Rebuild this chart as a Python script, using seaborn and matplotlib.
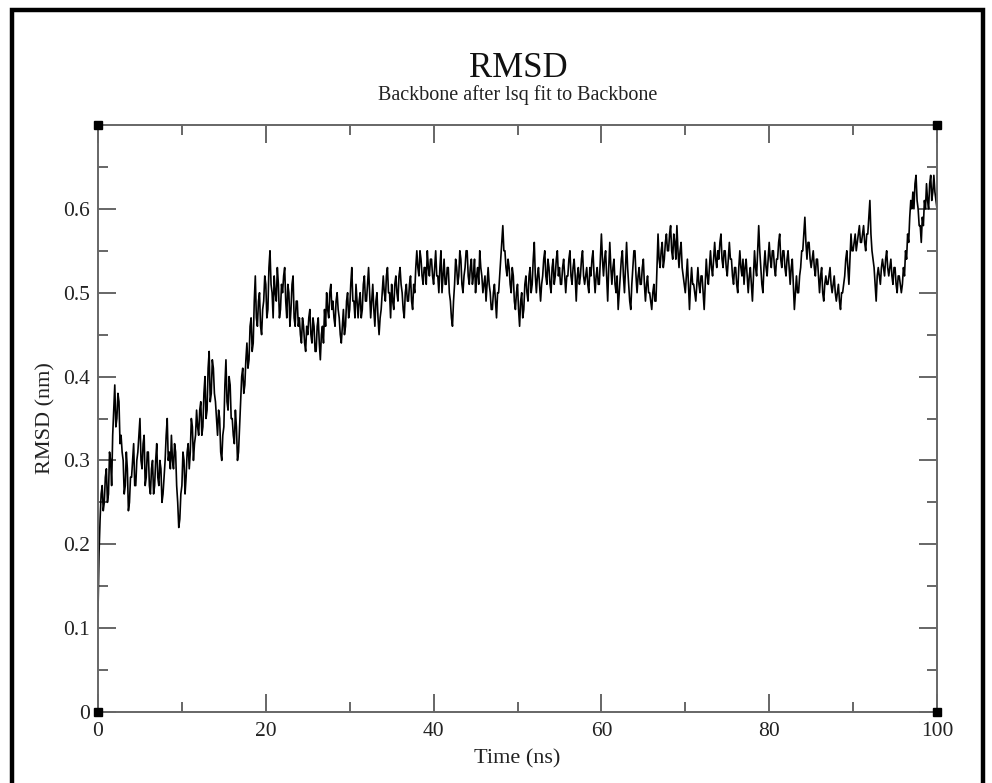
import numpy as np
import pandas as pd
import matplotlib
matplotlib.use("Agg")
import matplotlib.pyplot as plt
from matplotlib.patches import Rectangle
import seaborn as sns

# ---- data (8 samples per ns) ----
title = "RMSD"
subtitle = "Backbone after lsq fit to Backbone"
x_label = "Time (ns)"
y_label = "RMSD (nm)"
x_ticks = [0, 20, 40, 60, 80, 100]
x_tick_labels = ["0", "20", "40", "60", "80", "100"]
y_ticks = [0, 0.1, 0.2, 0.3, 0.4, 0.5, 0.6]
y_tick_labels = ["0", "0.1", "0.2", "0.3", "0.4", "0.5", "0.6"]
time_step_ns = 0.125

rmsd_nm = [
    0.12, 0.19, 0.23, 0.26, 0.27, 0.24, 0.25, 0.28,   # 0
    0.29, 0.25, 0.26, 0.31, 0.30, 0.27, 0.33, 0.36,   # 1
    0.39, 0.34, 0.35, 0.38, 0.37, 0.32, 0.33, 0.31,   # 2
    0.30, 0.26, 0.27, 0.31, 0.29, 0.24, 0.25, 0.28,   # 3
    0.28, 0.30, 0.32, 0.27, 0.27, 0.30, 0.31, 0.33,   # 4
    0.35, 0.30, 0.29, 0.32, 0.33, 0.27, 0.28, 0.31,   # 5
    0.31, 0.27, 0.26, 0.29, 0.30, 0.26, 0.27, 0.30,   # 6
    0.32, 0.28, 0.27, 0.30, 0.29, 0.25, 0.26, 0.28,   # 7
    0.30, 0.33, 0.35, 0.30, 0.31, 0.29, 0.33, 0.30,   # 8
    0.29, 0.32, 0.31, 0.27, 0.25, 0.22, 0.23, 0.26,   # 9
    0.27, 0.31, 0.30, 0.26, 0.28, 0.31, 0.32, 0.29,   # 10
    0.31, 0.35, 0.34, 0.30, 0.32, 0.33, 0.36, 0.34,   # 11
    0.33, 0.36, 0.37, 0.33, 0.34, 0.38, 0.40, 0.35,   # 12
    0.36, 0.41, 0.43, 0.37, 0.38, 0.42, 0.41, 0.38,   # 13
    0.37, 0.35, 0.33, 0.36, 0.35, 0.31, 0.30, 0.33,   # 14
    0.34, 0.39, 0.42, 0.37, 0.36, 0.40, 0.39, 0.35,   # 15
    0.35, 0.33, 0.32, 0.36, 0.34, 0.30, 0.31, 0.34,   # 16
    0.37, 0.40, 0.41, 0.38, 0.39, 0.42, 0.44, 0.41,   # 17
    0.42, 0.46, 0.47, 0.43, 0.44, 0.49, 0.52, 0.47,   # 18
    0.46, 0.49, 0.50, 0.46, 0.45, 0.48, 0.49, 0.52,   # 19
    0.51, 0.47, 0.48, 0.53, 0.55, 0.51, 0.50, 0.47,   # 20
    0.52, 0.50, 0.49, 0.53, 0.51, 0.47, 0.48, 0.51,   # 21
    0.50, 0.52, 0.53, 0.49, 0.47, 0.51, 0.50, 0.46,   # 22
    0.48, 0.51, 0.52, 0.47, 0.46, 0.49, 0.49, 0.46,   # 23
    0.47, 0.45, 0.44, 0.47, 0.46, 0.44, 0.43, 0.46,   # 24
    0.45, 0.47, 0.48, 0.45, 0.44, 0.47, 0.46, 0.43,   # 25
    0.43, 0.46, 0.47, 0.44, 0.42, 0.45, 0.46, 0.44,   # 26
    0.48, 0.46, 0.50, 0.48, 0.47, 0.50, 0.51, 0.48,   # 27
    0.49, 0.47, 0.46, 0.49, 0.50, 0.48, 0.47, 0.45,   # 28
    0.44, 0.46, 0.48, 0.45, 0.46, 0.49, 0.50, 0.47,   # 29
    0.48, 0.51, 0.53, 0.49, 0.49, 0.47, 0.51, 0.49,   # 30
    0.47, 0.49, 0.50, 0.47, 0.48, 0.51, 0.52, 0.49,   # 31
    0.49, 0.51, 0.53, 0.50, 0.47, 0.49, 0.51, 0.48,   # 32
    0.46, 0.49, 0.50, 0.47, 0.45, 0.47, 0.48, 0.50,   # 33
    0.52, 0.50, 0.49, 0.52, 0.53, 0.50, 0.50, 0.47,   # 34
    0.51, 0.49, 0.48, 0.51, 0.52, 0.50, 0.49, 0.52,   # 35
    0.53, 0.51, 0.50, 0.48, 0.47, 0.50, 0.51, 0.49,   # 36
    0.49, 0.51, 0.52, 0.49, 0.48, 0.51, 0.50, 0.53,   # 37
    0.55, 0.53, 0.52, 0.55, 0.54, 0.52, 0.51, 0.53,   # 38
    0.53, 0.51, 0.55, 0.53, 0.52, 0.54, 0.54, 0.52,   # 39
    0.51, 0.53, 0.55, 0.52, 0.52, 0.50, 0.53, 0.55,   # 40
    0.50, 0.52, 0.54, 0.51, 0.51, 0.53, 0.53, 0.50,   # 41
    0.49, 0.47, 0.46, 0.49, 0.51, 0.54, 0.53, 0.51,   # 42
    0.52, 0.55, 0.54, 0.51, 0.50, 0.52, 0.53, 0.55,   # 43
    0.55, 0.52, 0.51, 0.53, 0.54, 0.51, 0.52, 0.54,   # 44
    0.50, 0.52, 0.53, 0.51, 0.55, 0.53, 0.52, 0.50,   # 45
    0.51, 0.52, 0.49, 0.51, 0.53, 0.51, 0.50, 0.48,   # 46
    0.48, 0.50, 0.51, 0.49, 0.47, 0.50, 0.50, 0.52,   # 47
    0.54, 0.56, 0.58, 0.55, 0.55, 0.53, 0.52, 0.54,   # 48
    0.53, 0.51, 0.50, 0.53, 0.52, 0.49, 0.48, 0.50,   # 49
    0.51, 0.48, 0.46, 0.49, 0.50, 0.47, 0.48, 0.51,   # 50
    0.52, 0.50, 0.49, 0.52, 0.53, 0.50, 0.51, 0.54,   # 51
    0.56, 0.52, 0.50, 0.52, 0.53, 0.51, 0.49, 0.51,   # 52
    0.52, 0.54, 0.55, 0.52, 0.51, 0.54, 0.53, 0.51,   # 53
    0.50, 0.53, 0.54, 0.51, 0.52, 0.54, 0.55, 0.52,   # 54
    0.53, 0.51, 0.51, 0.53, 0.54, 0.52, 0.50, 0.52,   # 55
    0.52, 0.54, 0.55, 0.52, 0.51, 0.53, 0.54, 0.52,   # 56
    0.49, 0.52, 0.53, 0.51, 0.52, 0.54, 0.55, 0.52,   # 57
    0.51, 0.52, 0.53, 0.51, 0.50, 0.53, 0.52, 0.54,   # 58
    0.55, 0.52, 0.50, 0.52, 0.53, 0.51, 0.51, 0.54,   # 59
    0.57, 0.54, 0.52, 0.54, 0.55, 0.52, 0.49, 0.53,   # 60
    0.56, 0.53, 0.51, 0.53, 0.54, 0.51, 0.50, 0.52,   # 61
    0.48, 0.50, 0.52, 0.54, 0.55, 0.52, 0.50, 0.53,   # 62
    0.56, 0.53, 0.51, 0.49, 0.48, 0.51, 0.53, 0.55,   # 63
    0.55, 0.52, 0.50, 0.52, 0.53, 0.51, 0.51, 0.53,   # 64
    0.54, 0.51, 0.49, 0.51, 0.52, 0.50, 0.50, 0.49,   # 65
    0.48, 0.50, 0.51, 0.49, 0.49, 0.53, 0.57, 0.54,   # 66
    0.53, 0.55, 0.56, 0.53, 0.54, 0.56, 0.57, 0.55,   # 67
    0.55, 0.57, 0.58, 0.55, 0.54, 0.57, 0.56, 0.54,   # 68
    0.58, 0.55, 0.53, 0.55, 0.56, 0.53, 0.52, 0.51,   # 69
    0.50, 0.52, 0.54, 0.51, 0.48, 0.51, 0.53, 0.51,   # 70
    0.51, 0.50, 0.49, 0.51, 0.53, 0.51, 0.50, 0.52,   # 71
    0.52, 0.50, 0.48, 0.51, 0.54, 0.52, 0.51, 0.53,   # 72
    0.55, 0.53, 0.52, 0.54, 0.56, 0.54, 0.53, 0.55,   # 73
    0.54, 0.56, 0.57, 0.54, 0.53, 0.55, 0.55, 0.53,   # 74
    0.52, 0.54, 0.56, 0.54, 0.54, 0.52, 0.51, 0.53,   # 75
    0.53, 0.51, 0.50, 0.53, 0.55, 0.53, 0.52, 0.54,   # 76
    0.51, 0.53, 0.54, 0.52, 0.50, 0.52, 0.53, 0.51,   # 77
    0.49, 0.52, 0.55, 0.53, 0.52, 0.55, 0.58, 0.55,   # 78
    0.53, 0.51, 0.50, 0.53, 0.55, 0.53, 0.52, 0.54,   # 79
    0.56, 0.54, 0.53, 0.55, 0.55, 0.53, 0.52, 0.54,   # 80
    0.54, 0.56, 0.57, 0.54, 0.53, 0.55, 0.55, 0.53,   # 81
    0.52, 0.54, 0.55, 0.53, 0.51, 0.53, 0.54, 0.51,   # 82
    0.48, 0.50, 0.52, 0.50, 0.50, 0.52, 0.53, 0.55,   # 83
    0.55, 0.57, 0.59, 0.56, 0.54, 0.56, 0.56, 0.54,   # 84
    0.53, 0.54, 0.55, 0.53, 0.52, 0.54, 0.54, 0.52,   # 85
    0.50, 0.52, 0.53, 0.50, 0.49, 0.51, 0.52, 0.51,   # 86
    0.51, 0.52, 0.53, 0.51, 0.50, 0.51, 0.52, 0.50,   # 87
    0.49, 0.50, 0.51, 0.49, 0.48, 0.50, 0.50, 0.51,   # 88
    0.52, 0.54, 0.55, 0.53, 0.51, 0.54, 0.57, 0.55,   # 89
    0.55, 0.56, 0.57, 0.55, 0.56, 0.57, 0.58, 0.56,   # 90
    0.56, 0.57, 0.58, 0.56, 0.55, 0.57, 0.57, 0.59,   # 91
    0.61, 0.57, 0.55, 0.54, 0.53, 0.51, 0.49, 0.52,   # 92
    0.53, 0.52, 0.51, 0.53, 0.54, 0.53, 0.52, 0.54,   # 93
    0.55, 0.53, 0.52, 0.53, 0.54, 0.52, 0.51, 0.53,   # 94
    0.53, 0.51, 0.50, 0.52, 0.52, 0.51, 0.50, 0.51,   # 95
    0.53, 0.52, 0.55, 0.54, 0.57, 0.56, 0.59, 0.61,   # 96
    0.60, 0.62, 0.60, 0.63, 0.64, 0.61, 0.60, 0.58,   # 97
    0.58, 0.56, 0.59, 0.58, 0.61, 0.60, 0.63, 0.61,   # 98
    0.60, 0.63, 0.64, 0.61, 0.62, 0.64, 0.62, 0.61,   # 99
    0.60,                                             # 100
]

time_ns = np.arange(len(rmsd_nm)) * time_step_ns
df = pd.DataFrame({"time": time_ns, "rmsd": rmsd_nm})

# ---- style ----
sns.set_style("ticks")
plt.rcParams["font.family"] = ["Liberation Serif", "DejaVu Serif"]

W, H = 992, 783
fig = plt.figure(figsize=(W / 100, H / 100), dpi=100)
fig.patch.set_facecolor("white")

left, right, top, bottom = 98, 937, 125, 712
ax = fig.add_axes([left / W, 1 - bottom / H, (right - left) / W, (bottom - top) / H])

sns.lineplot(data=df, x="time", y="rmsd", ax=ax, color="black", linewidth=1.2,
             estimator=None, sort=False, legend=False)

ax.set_xlim(0, 100)
ax.set_ylim(0, 0.7)
ax.set_xticks(x_ticks)
ax.set_xticklabels(x_tick_labels)
ax.set_yticks(y_ticks)
ax.set_yticklabels(y_tick_labels)
ax.set_xticks(np.arange(10, 100, 20), minor=True)
ax.set_yticks(np.arange(0.05, 0.7, 0.1), minor=True)

axis_col = "#666666"
for s in ax.spines.values():
    s.set_visible(True)
    s.set_color(axis_col)
    s.set_linewidth(1.4)

ax.tick_params(which="both", direction="in", top=True, right=True,
               color=axis_col, width=1.4, labelsize=15.5, labelcolor="#222222")
ax.tick_params(axis="x", which="both", pad=7)
ax.tick_params(axis="y", which="both", pad=5.5)
ax.tick_params(which="major", length=13)
ax.tick_params(which="minor", length=7)

ax.set_xlabel(x_label, fontsize=16, color="#222222", labelpad=6)
ax.set_ylabel(y_label, fontsize=16, color="#222222", labelpad=6)

# titles
fig.text(518 / W, 1 - 77 / H, title, ha="center", va="baseline", fontsize=25, color="#111111")
fig.text(518 / W, 1 - 100 / H, subtitle, ha="center", va="baseline", fontsize=14.5, color="#222222")

# corner handles
for cx, cy in [(0, 0), (1, 0), (0, 1), (1, 1)]:
    ax.plot([cx], [cy], marker="s", markersize=6, color="black",
            transform=ax.transAxes, clip_on=False, zorder=5)

# thick outer border
border = Rectangle((11.5 / W, -0.05), (983 - 11.5) / W, 1.05 - 10 / H,
                   transform=fig.transFigure, fill=False, edgecolor="black",
                   linewidth=3.2, clip_on=False)
fig.patches.append(border)

fig.savefig("out.png", dpi=100)
